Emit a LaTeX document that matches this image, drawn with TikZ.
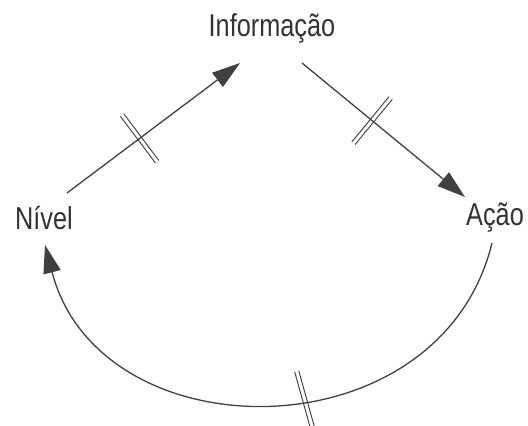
\documentclass[tikz,border=0pt]{standalone}
\usepackage{fontspec}
\setmainfont[FakeStretch=0.8]{Liberation Sans}
\usetikzlibrary{arrows.meta,decorations.markings}
\begin{document}
\begin{tikzpicture}[x=0.03cm,y=-0.03cm,
  label/.style={inner sep=0pt,text=black!80,font=\fontsize{27}{30}\selectfont},
  flow/.style={draw=black!75,line width=1.1pt,
               -{Triangle[length=24pt,width=15pt]}},
  delay/.style={postaction={decorate,decoration={markings,
      mark=at position #1 with {\draw[-,black!75,line width=0.8pt]
        (-1.8pt,-25pt) -- (-1.8pt,25pt) (1.8pt,-25pt) -- (1.8pt,25pt);}}}},
  tilted delay/.style={postaction={decorate,decoration={markings,
      mark=at position #1 with {\draw[-,black!75,line width=0.8pt,rotate=8]
        (-1.8pt,-26pt) -- (-1.8pt,26pt) (1.8pt,-26pt) -- (1.8pt,26pt);}}}}]
\path[use as bounding box] (0,0) rectangle (528,426);
\node[label] (info) at (272,28) {Informação};
\node[label] (nivel) at (44,218) {Nível};
\node[label] (acao) at (495,218) {Ação};
\draw[flow,delay=0.42] ([shift={(23,-25)}]nivel.center) -- ([shift={(-32,35)}]info.center);
\draw[flow,delay=0.43] ([shift={(30,35)}]info.center) -- ([shift={(-30,-21)}]acao.center);
\draw[flow,tilted delay=0.44] ([shift={(-3,25)}]acao.center)
  .. controls (440,456) and (100,456) .. ([shift={(1,27)}]nivel.center);
\end{tikzpicture}
\end{document}
